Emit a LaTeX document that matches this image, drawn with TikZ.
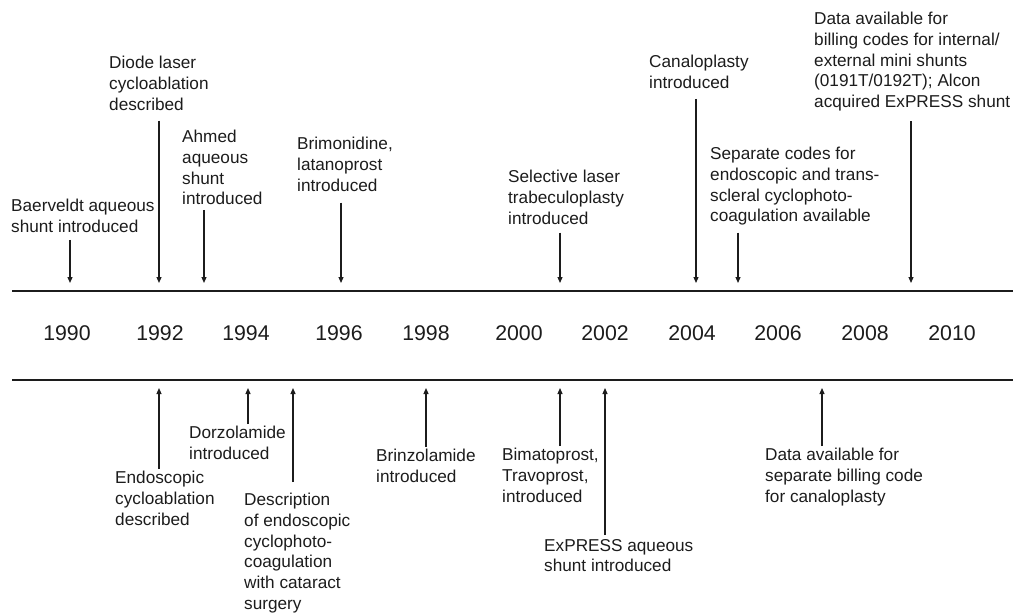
\documentclass[tikz,border=0pt]{standalone}
\usepackage{fontspec}
\setmainfont{Liberation Sans}
\usetikzlibrary{arrows.meta}
\definecolor{ink}{HTML}{1C1C1C}
\tikzset{
  event/.style={anchor=north west, inner sep=0pt, align=left,
    font=\fontsize{17.2}{20.75}\selectfont, text=ink},
  year/.style={inner sep=0pt, font=\fontsize{21.3}{25}\selectfont, text=ink},
  ptr/.style={draw=ink, line width=1.2pt, -{Triangle[length=6pt,width=5pt]}},
  rule/.style={draw=ink, line width=2pt},
}
\begin{document}
\begin{tikzpicture}[x=1pt,y=-1pt]
  \useasboundingbox (0,0) rectangle (1015,613);
  % 时间轴的两条横线
  \draw[rule] (12,291) -- (1013,291);
  \draw[rule] (12,379.5) -- (1013,379.5);
  % 年份
  \foreach \yr/\px in {1990/67,1992/160,1994/246,1996/339,1998/426,2000/519,
                       2002/605,2004/692,2006/778,2008/865,2010/952}
  \node[year] (y\yr) at (\px,333) {\yr};

  % 上方事件：箭头指向上横线
  \coordinate (baerT)  at (70,283);
  \coordinate (diodeT) at (159,283);
  \coordinate (ahmedT) at (204,283);
  \coordinate (brimT)  at (341,283);
  \coordinate (sltT)   at (560,283);
  \coordinate (canalT) at (696,283);
  \coordinate (codesT) at (738,283);
  \coordinate (miniT)  at (911,283);

  \node[event] (baer)  at (11,199)  {Baerveldt aqueous\\shunt introduced};
  \node[event] (diode) at (109,56)  {Diode laser\\cycloablation\\described};
  \node[event] (ahmed) at (182,130) {Ahmed\\aqueous\\shunt\\introduced};
  \node[event] (brim)  at (297,137) {Brimonidine,\\latanoprost\\introduced};
  \node[event] (slt)   at (508,170) {Selective laser\\trabeculoplasty\\introduced};
  \node[event] (canal) at (649,55)  {Canaloplasty\\introduced};
  \node[event] (codes) at (710,147) {Separate codes for\\endoscopic and trans-\\scleral cyclophoto-\\coagulation available};
  \node[event] (mini)  at (814,12)  {Data available for\\billing codes for internal/\\external mini shunts\\(0191T/0192T); Alcon\\acquired ExPRESS shunt};

  \draw[ptr,shorten <=7pt]   (baer.south -| baerT)   -- (baerT);
  \draw[ptr,shorten <=10pt]  (diode.south -| diodeT) -- (diodeT);
  \draw[ptr,shorten <=4.5pt] (ahmed.south -| ahmedT) -- (ahmedT);
  \draw[ptr,shorten <=11pt]  (brim.south -| brimT)   -- (brimT);
  \draw[ptr,shorten <=8pt]   (slt.south -| sltT)     -- (sltT);
  \draw[ptr,shorten <=10pt]  (canal.south -| canalT) -- (canalT);
  \draw[ptr,shorten <=7pt]   (codes.south -| codesT) -- (codesT);
  \draw[ptr,shorten <=10pt]  (mini.south -| miniT)   -- (miniT);

  % 下方事件：箭头指向下横线
  \coordinate (endoT)    at (159,388);
  \coordinate (dorzoT)   at (248,388);
  \coordinate (ecpT)     at (293,388);
  \coordinate (brinzT)   at (426,388);
  \coordinate (bimatT)   at (560,388);
  \coordinate (expressT) at (605,388);
  \coordinate (billT)    at (822,388);

  \node[event] (endo)    at (115,471) {Endoscopic\\cycloablation\\described};
  \node[event] (dorzo)   at (189,426) {Dorzolamide\\introduced};
  \node[event] (ecp)     at (244,493) {Description\\of endoscopic\\cyclophoto-\\coagulation\\with cataract\\surgery};
  \node[event] (brinz)   at (376,449) {Brinzolamide\\introduced};
  \node[event] (bimat)   at (502,448) {Bimatoprost,\\Travoprost,\\introduced};
  \node[event] (express) at (544,539) {ExPRESS aqueous\\shunt introduced};
  \node[event] (bill)    at (765,448) {Data available for\\separate billing code\\for canaloplasty};

  \draw[ptr,shorten <=2pt]  (endo.north -| endoT)       -- (endoT);
  \draw[ptr,shorten <=2pt]  (dorzo.north -| dorzoT)     -- (dorzoT);
  \draw[ptr,shorten <=11pt] (ecp.north -| ecpT)         -- (ecpT);
  \draw[ptr,shorten <=2.5pt](brinz.north -| brinzT)     -- (brinzT);
  \draw[ptr,shorten <=2pt]  (bimat.north -| bimatT)     -- (bimatT);
  \draw[ptr,shorten <=4pt]  (express.north -| expressT) -- (expressT);
  \draw[ptr,shorten <=2pt]  (bill.north -| billT)       -- (billT);
\end{tikzpicture}
\end{document}
